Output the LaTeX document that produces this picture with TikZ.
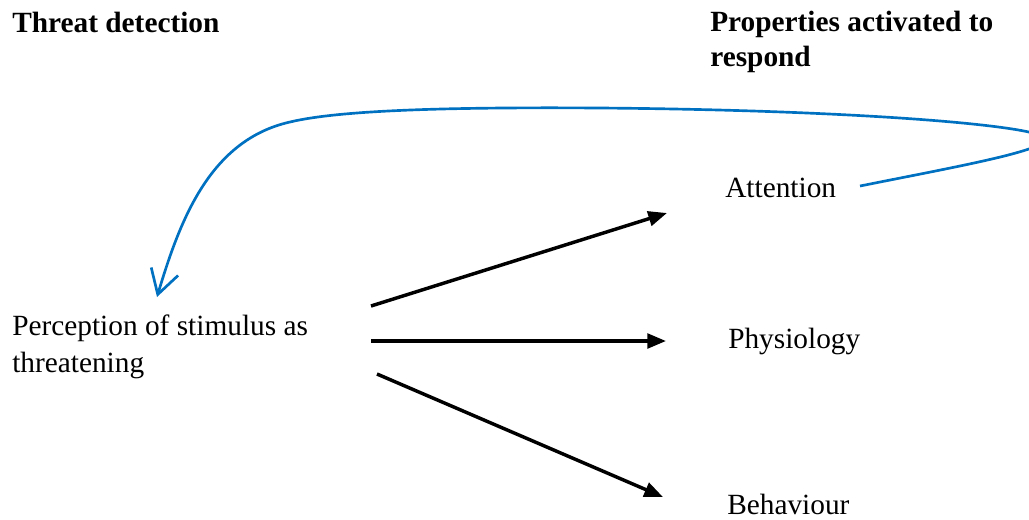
\documentclass[tikz,border=0pt]{standalone}
\usepackage{fontspec}
\setmainfont{Liberation Serif}
\usepackage{xcolor}
\usetikzlibrary{arrows.meta, positioning}

\definecolor{loopblue}{RGB}{0,112,192}

\begin{document}
\begin{tikzpicture}[
      x=0.75pt, y=-0.75pt,
      txt/.style={inner sep=0pt, align=left, font=\fontsize{22}{27.75}\selectfont},
      heading/.style={inner sep=0pt, align=left, font=\fontsize{22}{26.25}\selectfont\bfseries},
      flow/.style={-{Triangle[length=14pt, width=11pt]}, line width=2.6pt},
      loopback/.style={loopblue, line width=2pt, -{Straight Barb[length=18pt, width=21pt]}}
    ]
    \useasboundingbox (0,0) rectangle (1029,519);

    % Column headings
    \node[heading, anchor=base west] (detect) at (12,32) {Threat detection};
    \node[heading, anchor=north west] (props) at (710,11) {Properties activated to\\respond};

    % Stimulus and responses
    \node[txt, anchor=north west] (perc) at (12,315) {Perception of stimulus as\\threatening};
    \node[txt, anchor=base west] (att) at (725,197) {Attention};
    \node[txt, anchor=base west] (phys) at (728,348) {Physiology};
    \node[txt, anchor=base west] (beh) at (727,514) {Behaviour};

    % Arrow ends
    \coordinate (s1) at (371,306);
    \coordinate (e1) at (667,213);
    \coordinate (s2) at (371,341);
    \coordinate (e2) at (666,341);
    \coordinate (s3) at (377,374);
    \coordinate (e3) at (663,497);
    \coordinate (fb) at (860,186);
    \coordinate (tip) at (157,297);

    \draw[flow] (s1) -- (e1);
    \draw[flow] (s2) -- (e2);
    \draw[flow] (s3) -- (e3);

    % Feedback loop back to perception
    \begin{scope}
      \clip (0,0) rectangle (1029,519);
      \draw[loopback] (fb) .. controls (960,166) and (1050,150) .. (1045,138)
        .. controls (1035,125) and (850,110) .. (600,108)
        .. controls (450,107) and (340,110) .. (290,122)
        .. controls (210,140) and (180,220) .. (tip);
    \end{scope}
  \end{tikzpicture}
\end{document}
